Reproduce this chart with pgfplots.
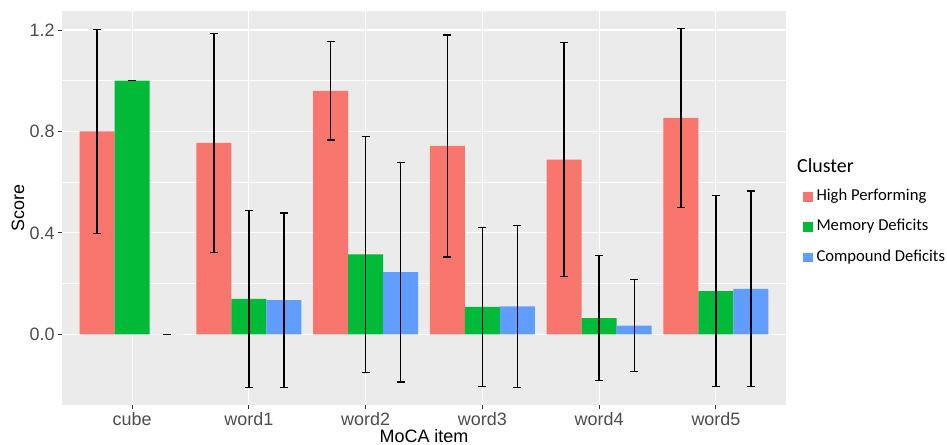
\documentclass[border=0pt]{standalone}
\usepackage{pgfplots}
\pgfplotsset{compat=1.18}
\usepackage{pgfplotstable}
\usepackage{fontspec}
\setmainfont{Liberation Sans}
\newfontfamily\calibri{Carlito}
\definecolor{hpcol}{HTML}{F8766D}
\definecolor{mdcol}{HTML}{00BA38}
\definecolor{cdcol}{HTML}{619CFF}
\definecolor{panel}{HTML}{EBEBEB}
\definecolor{ticklab}{HTML}{4D4D4D}
\definecolor{tickcol}{HTML}{333333}
\pgfplotstableread{
x hp hpe md mde cd cde
0 0.800 0.403 1.000 0.000 0.000 0.000
1 0.755 0.432 0.140 0.349 0.135 0.344
2 0.960 0.194 0.315 0.466 0.245 0.433
3 0.743 0.438 0.108 0.313 0.110 0.319
4 0.689 0.462 0.064 0.247 0.034 0.181
5 0.853 0.353 0.170 0.377 0.179 0.386
}\data
\pgfplotsset{
  sqlegend/.style={legend image code/.code={\fill[##1] (0bp,-4.65bp) rectangle (9.3bp,4.65bp);}},
  errstyle/.style={error bars/.cd, y dir=both, y explicit,
     error bar style={black, line width=1.4bp},
     error mark options={black, line width=1.4bp, mark size=4bp, rotate=90}},
}
\begin{document}
\begin{tikzpicture}
\path[use as bounding box] (0,0) rectangle (947bp,445bp);
\begin{axis}[
  at={(62bp,40bp)}, anchor=south west,
  scale only axis, width=724bp, height=394bp,
  xmin=-0.6, xmax=5.6, ymin=-0.279, ymax=1.275,
  axis background/.style={fill=panel},
  axis line style={draw=none},
  xtick={0,1,2,3,4,5},
  xticklabels={cube,word1,word2,word3,word4,word5},
  ytick={0,0.4,0.8,1.2},
  yticklabel style={/pgf/number format/.cd, fixed, fixed zerofill, precision=1},
  /pgf/number format/assume math mode=true,
  minor y tick num=1,
  minor tick length=0pt,
  tick pos=left, tick align=outside,
  major tick length=4bp,
  major tick style={tickcol, line width=1bp},
  grid=both,
  major grid style={white, line width=1.1bp},
  minor grid style={white, line width=0.55bp},
  tick label style={font=\fontsize{18}{21.6}\selectfont, color=ticklab},
  every axis x label/.style={at={(axis description cs:0.5,0)}, yshift=-31.5bp, anchor=center, font=\fontsize{18}{21.6}\selectfont},
  every axis y label/.style={at={(axis description cs:0,0.5)}, xshift=-44bp, rotate=90, anchor=center, font=\fontsize{18}{21.6}\selectfont},
  xlabel={MoCA item}, ylabel={Score},
  legend cell align=left,
  legend style={at={(axis description cs:1.0235,0.547)}, anchor=north west,
     draw=none, fill=none, inner sep=0pt, row sep=15.7bp, column sep=4bp,
     font=\calibri\fontsize{16.7}{20}\selectfont,
     nodes={inner sep=0pt, text height=11bp, text depth=3.5bp}},
]
\addplot[ybar, bar width=0.3, bar shift=0, fill=hpcol, draw=none, sqlegend, errstyle]
  table[x expr=\thisrow{x}-0.3, y=hp, y error=hpe] {\data};
\addlegendentry{High Performing}
\addplot[ybar, bar width=0.3, bar shift=0, fill=mdcol, draw=none, sqlegend, errstyle]
  table[x=x, y=md, y error=mde] {\data};
\addlegendentry{Memory Deficits}
\addplot[ybar, bar width=0.3, bar shift=0, fill=cdcol, draw=none, sqlegend, errstyle]
  table[x expr=\thisrow{x}+0.3, y=cd, y error=cde] {\data};
\addlegendentry{Compound Deficits}
\end{axis}
\node[anchor=west, inner sep=0pt, font=\calibri\fontsize{20}{24}\selectfont] at (797bp,279.5bp) {Cluster};
\end{tikzpicture}
\end{document}
